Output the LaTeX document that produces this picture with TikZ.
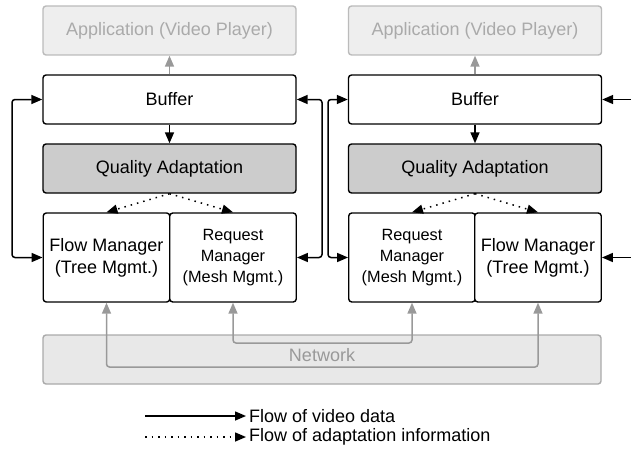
\documentclass[tikz,border=0pt]{standalone}
\usepackage{fontspec}
\setmainfont{Liberation Sans}
\usetikzlibrary{arrows.meta}
\definecolor{appfill}{HTML}{EEEEEE}
\definecolor{appdraw}{HTML}{BBBBBB}
\definecolor{apptext}{HTML}{AAAAAA}
\definecolor{netfill}{HTML}{E8E8E8}
\definecolor{netdraw}{HTML}{AAAAAA}
\definecolor{garrow}{HTML}{999999}
\definecolor{qafill}{HTML}{CCCCCC}
\tikzset{
  box/.style={draw=black, line width=1.4pt, rounded corners=3pt, fill=white, inner sep=0pt,
    font=\fontsize{18}{22}\selectfont, align=center},
  wide/.style={minimum width=253pt, minimum height=49pt},
  half/.style={minimum width=126.5pt, minimum height=89pt},
  appbox/.style={box, draw=appdraw, fill=appfill, text=apptext},
  netbox/.style={box, draw=netdraw, fill=netfill, text=garrow},
  qabox/.style={box, fill=qafill},
  small/.style={font=\fontsize{16.3}{21}\selectfont},
  arr/.style={line width=1.5pt, -{Triangle[length=11pt,width=9pt]}},
  barr/.style={line width=1.5pt, {Triangle[length=11pt,width=9pt]}-{Triangle[length=11pt,width=9pt]}, rounded corners=3pt},
  dotarr/.style={line width=1.5pt, dash pattern=on 1.5pt off 5pt, -{Triangle[length=11pt,width=9pt]}},
  garr/.style={line width=1.5pt, draw=garrow, -{Triangle[length=11pt,width=9pt]}},
  gbarr/.style={line width=1.5pt, draw=garrow, {Triangle[length=11pt,width=9pt]}-{Triangle[length=11pt,width=9pt]}, rounded corners=3pt},
  legtext/.style={anchor=west, inner sep=0pt, font=\fontsize{18}{22}\selectfont},
}
\begin{document}
\begin{tikzpicture}[x=1pt, y=-1pt]
\useasboundingbox (0,0) rectangle (631,452);
% network
\node[netbox, minimum width=558pt, minimum height=49pt] (net) at (322,359.5) {};
\node[text=garrow, font=\fontsize{18}{22}\selectfont, inner sep=0pt] (nettext) at (322,355.5) {Network};
% left column
\node[appbox, wide] (appL) at (169.5,30.5) {Application (Video Player)};
\node[box, wide] (bufL) at (169.5,99.5) {Buffer};
\node[qabox, wide] (qaL) at (169.5,168.5) {Quality Adaptation};
\node[box, half] (fmL) at (106.5,257.5) {Flow Manager\\(Tree Mgmt.)};
\node[box, half, small] (rmL) at (233,257.5) {Request\\Manager\\(Mesh Mgmt.)};
% right column
\node[appbox, wide] (appR) at (475,30.5) {Application (Video Player)};
\node[box, wide] (bufR) at (475,99.5) {Buffer};
\node[qabox, wide] (qaR) at (475,168.5) {Quality Adaptation};
\node[box, half, small] (rmR) at (412,257.5) {Request\\Manager\\(Mesh Mgmt.)};
\node[box, half] (fmR) at (538,257.5) {Flow Manager\\(Tree Mgmt.)};
% coordinates
\coordinate (xl) at (12,0);
\coordinate (xm1) at (322,0);
\coordinate (xm2) at (328,0);
\coordinate (edge) at (631,0);
\coordinate (y1) at (0,343);
\coordinate (y2) at (0,367);
% vertical flows
\draw[garr] (bufL.north) -- (appL.south);
\draw[garr] (bufR.north) -- (appR.south);
\draw[arr] (bufL.south) -- (qaL.north);
\draw[arr] (bufR.south) -- (qaR.north);
\draw[dotarr] (qaL.south) -- (fmL.north);
\draw[dotarr] (qaL.south) -- (rmL.north);
\draw[dotarr] (qaR.south) -- (rmR.north);
\draw[dotarr] (qaR.south) -- (fmR.north);
% loops
\draw[barr] (fmL.west) -- (fmL.west -| xl) -- (bufL.west -| xl) -- (bufL.west);
\draw[barr] (rmL.east) -- (rmL.east -| xm1) -- (bufL.east -| xm1) -- (bufL.east);
\draw[barr] (rmR.west) -- (rmR.west -| xm2) -- (bufR.west -| xm2) -- (bufR.west);
\draw[arr] (bufR.east -| edge) -- (bufR.east);
\draw[arr] (fmR.east -| edge) -- (fmR.east);
% network links
\draw[gbarr] (fmL.south) -- (fmL.south |- y2) -- (fmR.south |- y2) -- (fmR.south);
\draw[gbarr] (rmL.south) -- (rmL.south |- y1) -- (rmR.south |- y1) -- (rmR.south);
% legend
\node[legtext] (leg1) at (249,416) {Flow of video data};
\node[legtext] (leg2) at (249,437) {Flow of adaptation information};
\coordinate (ls1) at (145,416);
\coordinate (ls2) at (145,437);
\draw[arr, shorten >=3pt] (ls1) -- (leg1.west);
\draw[dotarr, shorten >=3pt] (ls2) -- (leg2.west);
\end{tikzpicture}
\end{document}
